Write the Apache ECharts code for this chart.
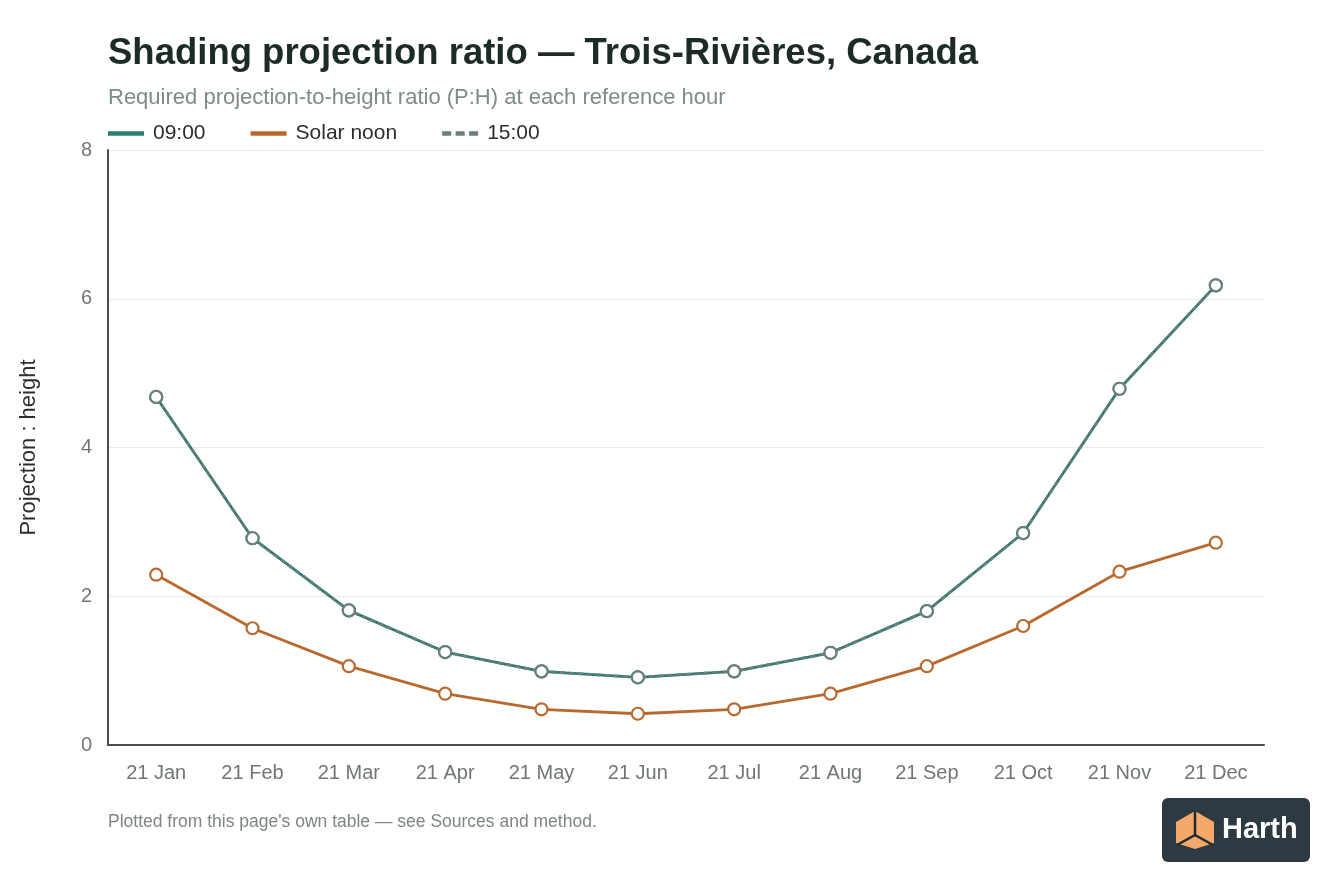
<!DOCTYPE html>
<html><head><meta charset="utf-8">
<script src="https://cdn.jsdelivr.net/npm/echarts@6/dist/echarts.min.js"></script>
<style>html,body{margin:0;padding:0;background:#fff}#c{width:1344px;height:896px}</style>
</head><body><div id="c"></div>
<script>
const categories = ['21 Jan','21 Feb','21 Mar','21 Apr','21 May','21 Jun','21 Jul','21 Aug','21 Sep','21 Oct','21 Nov','21 Dec'];
const morning = [4.68, 2.78, 1.81, 1.25, 0.99, 0.91, 0.99, 1.24, 1.80, 2.85, 4.79, 6.18];
const noon = [2.29, 1.57, 1.06, 0.69, 0.48, 0.42, 0.48, 0.69, 1.06, 1.60, 2.33, 2.72];
const afternoon = [4.68, 2.78, 1.81, 1.25, 0.99, 0.91, 0.99, 1.24, 1.80, 2.85, 4.79, 6.18];
const yTicks = [0, 2, 4, 6, 8];

const FONT = '"Liberation Sans", Helvetica, Arial, sans-serif';
const chart = echarts.init(document.getElementById('c'));
function lineSeries(name, data, color, dashed, z) {
  return {
    name, type: 'line', data, z,
    symbol: 'circle', symbolSize: 12,
    lineStyle: { color, width: 2.8, type: dashed ? [5, 4] : 'solid' },
    itemStyle: { color: '#fff', borderColor: color, borderWidth: 2.2 },
    emphasis: { disabled: true }
  };
}
const SOLID = 'path://M0,0h34v2.5h-34z';
const DASH = 'path://M0,0h7v2.5h-7z M13.5,0h7v2.5h-7z M27,0h7v2.5h-7z';
chart.setOption({
  animation: false,
  textStyle: { fontFamily: FONT },
  title: {
    text: 'Shading projection ratio — Trois-Rivières, Canada',
    subtext: 'Required projection-to-height ratio (P:H) at each reference hour',
    left: 108, top: 35, itemGap: 15, padding: 0,
    textStyle: { fontFamily: FONT, fontSize: 36.5, fontWeight: 600, color: '#1d2b26' },
    subtextStyle: { fontFamily: FONT, fontSize: 22, color: '#7d8c85' }
  },
  legend: {
    left: 108, top: 123, itemWidth: 34, itemHeight: 2.5, itemGap: 45, padding: 0,
    textStyle: { fontFamily: FONT, fontSize: 21, color: '#2a2f2d', padding: [0, 0, 0, 5] },
    data: [
      { name: '09:00', icon: SOLID, itemStyle: { color: '#2e7d73' } },
      { name: 'Solar noon', icon: SOLID, itemStyle: { color: '#b8692e' } },
      { name: '15:00', icon: DASH, itemStyle: { color: '#6b7f7a' } }
    ]
  },
  grid: { left: 108, right: 80, top: 150, bottom: 151 },
  xAxis: {
    type: 'category', data: categories, boundaryGap: true,
    axisLine: { lineStyle: { color: '#4a4f4d', width: 2 } },
    axisTick: { show: false },
    axisLabel: { fontFamily: FONT, fontSize: 20, color: '#6f7774', margin: 18 }
  },
  yAxis: {
    type: 'value', min: yTicks[0], max: yTicks[yTicks.length - 1], interval: 2,
    name: 'Projection : height', nameLocation: 'middle', nameGap: 68,
    nameTextStyle: { fontFamily: FONT, fontSize: 22, color: '#2a2f2d' },
    axisLine: { show: true, lineStyle: { color: '#4a4f4d', width: 2 } },
    axisTick: { show: false },
    axisLabel: { fontFamily: FONT, fontSize: 20, color: '#6f7774', margin: 16 },
    splitLine: { lineStyle: { color: '#e8ecea', width: 1 } }
  },
  series: [
    lineSeries('09:00', morning, '#2e7d73', false, 2),
    lineSeries('Solar noon', noon, '#b8692e', false, 3),
    lineSeries('15:00', afternoon, '#6b7f7a', true, 4)
  ],
  graphic: [
    { type: 'text', left: 108, top: 813,
      style: { text: "Plotted from this page's own table — see Sources and method.", font: '17.5px ' + FONT, fill: '#7d8683' } },
    { type: 'group', left: 1162, top: 798, children: [
      { type: 'rect', shape: { x: 0, y: 0, width: 148, height: 64, r: 6 }, style: { fill: '#2d3a42' } },
      { type: 'polygon', shape: { points: [[33,13],[52,24],[52,45],[33,51],[14,45],[14,24]] }, style: { fill: '#f4a86a' } },
      { type: 'polyline', shape: { points: [[33,13],[33,37],[15,47]] }, style: { stroke: '#1f2a30', lineWidth: 2.5, fill: null } },
      { type: 'polyline', shape: { points: [[33,37],[51,47]] }, style: { stroke: '#1f2a30', lineWidth: 2.5, fill: null } },
      { type: 'text', x: 60, y: 17, style: { text: 'Harth', font: 'bold 29px ' + FONT, fill: '#ffffff' } }
    ]}
  ]
});
</script></body></html>
